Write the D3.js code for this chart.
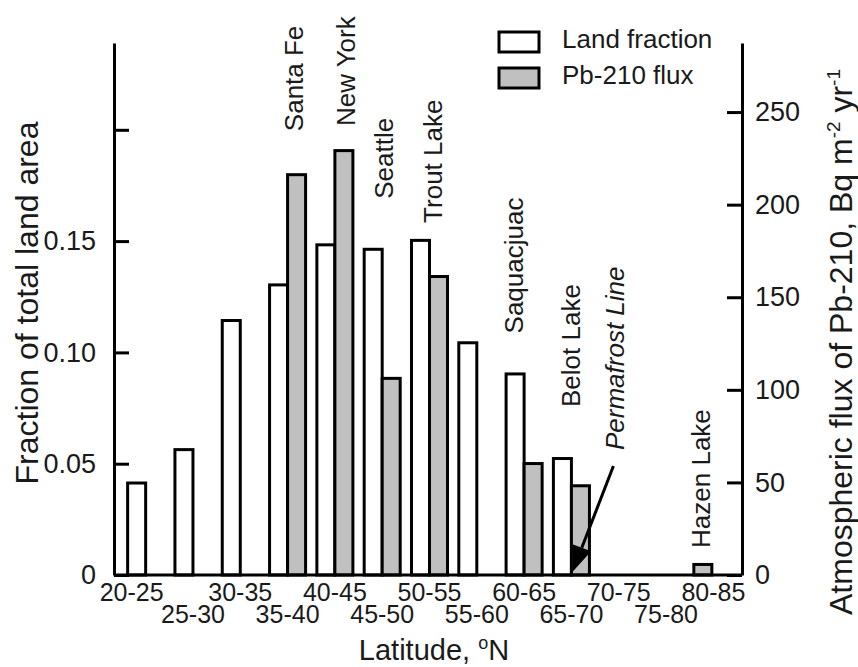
<!DOCTYPE html>
<html>
<head>
<meta charset="utf-8">
<script src="https://cdn.jsdelivr.net/npm/d3@7"></script>
<style>
  body { margin: 0; background: #fff; }
  text { font-family: "Liberation Sans", Arial, sans-serif; fill: #1a1a1a; }
</style>
</head>
<body>
<div id="chart"></div>
<script>
// latitude bands and the two series
const latBands = ["20-25", "25-30", "30-35", "35-40", "40-45", "45-50", "50-55",
                  "55-60", "60-65", "65-70", "70-75", "75-80", "80-85"];
const landFraction = [0.042, 0.057, 0.115, 0.131, 0.149, 0.147, 0.151,
                      0.105, 0.091, 0.053, 0, 0, 0];
const pbFlux = [null, null, null, 217, 230, 107, 162, null, 61, 49, null, null, 6.5];

// sampling sites written above the bars
const siteNames = ["Santa Fe", "New York", "Seattle", "Trout Lake", "Saquacjuac", "Belot Lake", "Hazen Lake"];
const siteBands = ["35-40", "40-45", "45-50", "50-55", "60-65", "65-70", "80-85"];

const leftTicks = [0, 0.05, 0.1, 0.15, 0.2];
const rightTicks = [0, 50, 100, 150, 200, 250];

const width = 858, height = 667;
const margin = {top: 43, right: 116, bottom: 92, left: 114};
const innerW = width - margin.left - margin.right;
const innerH = height - margin.top - margin.bottom;

// label nudges: [dx from band start, gap above tallest bar]
const siteNudge = [[35, 42], [40, 23], [30, 49], [32, 16], [18, 39], [28, 50], [16, 15]];

const svg = d3.select("#chart")
    .append("svg")
    .attr("width", width)
    .attr("height", height);

const g = svg.append("g")
    .attr("transform", `translate(${margin.left},${margin.top})`);

const x = d3.scaleBand()
    .domain(latBands)
    .range([8, innerW - 5])
    .paddingInner(0.175)
    .paddingOuter(0.0875);
const half = x.bandwidth() / 2;

const yL = d3.scaleLinear().domain([0, 0.239]).range([innerH, 0]);
const yR = d3.scaleLinear().domain([0, 287.3]).range([innerH, 0]);

const rows = latBands.map((b, i) => ({band: b, land: landFraction[i], flux: pbFlux[i]}));

// land fraction bars (white)
g.selectAll(".land")
    .data(rows.filter(d => d.land > 0))
    .enter()
    .append("rect")
    .attr("class", "land")
    .attr("x", d => x(d.band) + 1.5)
    .attr("y", d => yL(d.land) + 1.5)
    .attr("width", half - 1.5)
    .attr("height", d => innerH - yL(d.land) - 1.5)
    .attr("fill", "#fff")
    .attr("stroke", "#000")
    .attr("stroke-width", 3);

// Pb-210 flux bars (grey); take the first slot when there is no land bar
g.selectAll(".flux")
    .data(rows.filter(d => d.flux != null))
    .enter()
    .append("rect")
    .attr("class", "flux")
    .attr("x", d => x(d.band) + (d.land > 0 ? half : 0))
    .attr("y", d => yR(d.flux) + 1.5)
    .attr("width", half - 1.5)
    .attr("height", d => innerH - yR(d.flux) - 1.5)
    .attr("fill", "#c0c0c0")
    .attr("stroke", "#000")
    .attr("stroke-width", 3);

// left axis
const leftAxis = g.append("g")
    .call(d3.axisLeft(yL)
        .tickValues(leftTicks)
        .tickSize(-15)
        .tickSizeOuter(0)
        .tickPadding(18)
        .tickFormat(d => d === 0 ? "0" : d === 0.2 ? "" : d3.format(".2f")(d)));

// right axis
const rightAxis = g.append("g")
    .attr("transform", `translate(${innerW},0)`)
    .call(d3.axisRight(yR)
        .tickValues(rightTicks)
        .tickSize(-15)
        .tickSizeOuter(0)
        .tickPadding(13));

[leftAxis, rightAxis].forEach(a => {
    a.selectAll("path, line").attr("stroke", "#000").attr("stroke-width", 3);
    a.selectAll("text").style("font-size", "27px").attr("fill", "#1a1a1a");
});

// bottom axis: baseline plus two staggered rows of labels
g.append("line")
    .attr("x1", 0).attr("x2", innerW)
    .attr("y1", innerH).attr("y2", innerH)
    .attr("stroke", "#000")
    .attr("stroke-width", 3);

const bottomAxis = g.append("g")
    .attr("transform", `translate(0,${innerH})`)
    .call(d3.axisBottom(x).tickSize(0));
bottomAxis.select(".domain").remove();
bottomAxis.selectAll("text")
    .style("font-size", "25px")
    .attr("fill", "#1a1a1a")
    .attr("y", (d, i) => i % 2 ? 30 : 8)
    .attr("dx", (d, i) => i === 0 ? -14 : 0);

// axis titles
svg.append("text")
    .attr("transform", `translate(38,303) rotate(-90)`)
    .attr("text-anchor", "middle")
    .style("font-size", "32px")
    .text("Fraction of total land area");

const rTitle = svg.append("text")
    .attr("transform", `translate(852,342) rotate(-90)`)
    .attr("text-anchor", "middle")
    .style("font-size", "32px");
rTitle.append("tspan").text("Atmospheric flux of Pb-210, Bq m");
rTitle.append("tspan").attr("dy", -12).style("font-size", "19px").text("-2");
rTitle.append("tspan").attr("dy", 12).text(" yr");
rTitle.append("tspan").attr("dy", -12).style("font-size", "19px").text("-1");

const xTitle = svg.append("text")
    .attr("x", margin.left + innerW / 2 + 6)
    .attr("y", 660)
    .attr("text-anchor", "middle")
    .style("font-size", "29px");
xTitle.append("tspan").text("Latitude, ");
xTitle.append("tspan").attr("dy", -11).style("font-size", "18px").text("o");
xTitle.append("tspan").attr("dy", 11).text("N");

// site labels, rotated
siteNames.forEach((name, i) => {
    const r = rows[latBands.indexOf(siteBands[i])];
    const top = Math.min(yL(r.land), r.flux != null ? yR(r.flux) : innerH);
    g.append("text")
        .attr("transform", `translate(${x(r.band) + siteNudge[i][0]},${top - siteNudge[i][1]}) rotate(-90)`)
        .style("font-size", "26px")
        .text(name);
});

// permafrost annotation and arrow
const pf = rows[latBands.indexOf("65-70")];
const tipX = x(pf.band) + half + 1, tipY = yR(0) - 3;
const startX = tipX + 41, startY = tipY - 106;
g.append("text")
    .attr("transform", `translate(${startX + 11},${startY - 16}) rotate(-90)`)
    .style("font-size", "26px")
    .style("font-style", "italic")
    .text("Permafrost Line");

const ang = Math.atan2(tipY - startY, tipX - startX);
const headLen = 26, headW = 10;
const baseX = tipX - headLen * Math.cos(ang), baseY = tipY - headLen * Math.sin(ang);
g.append("line")
    .attr("x1", startX).attr("y1", startY)
    .attr("x2", baseX).attr("y2", baseY)
    .attr("stroke", "#000")
    .attr("stroke-width", 3);
g.append("path")
    .attr("d", `M${tipX},${tipY}L${baseX + headW * Math.sin(ang)},${baseY - headW * Math.cos(ang)}L${baseX - headW * Math.sin(ang)},${baseY + headW * Math.cos(ang)}Z`)
    .attr("fill", "#000");

// legend
const legendItems = ["Land fraction", "Pb-210 flux"];
const legendFill = ["#fff", "#c0c0c0"];
const legend = svg.append("g").attr("transform", "translate(499,32)");
legendItems.forEach((label, i) => {
    legend.append("rect")
        .attr("x", 0).attr("y", i * 36)
        .attr("width", 40).attr("height", 20)
        .attr("fill", legendFill[i])
        .attr("stroke", "#000")
        .attr("stroke-width", 3);
    legend.append("text")
        .attr("x", 63).attr("y", i * 36 + 16)
        .style("font-size", "26px")
        .text(label);
});
</script>
</body>
</html>
